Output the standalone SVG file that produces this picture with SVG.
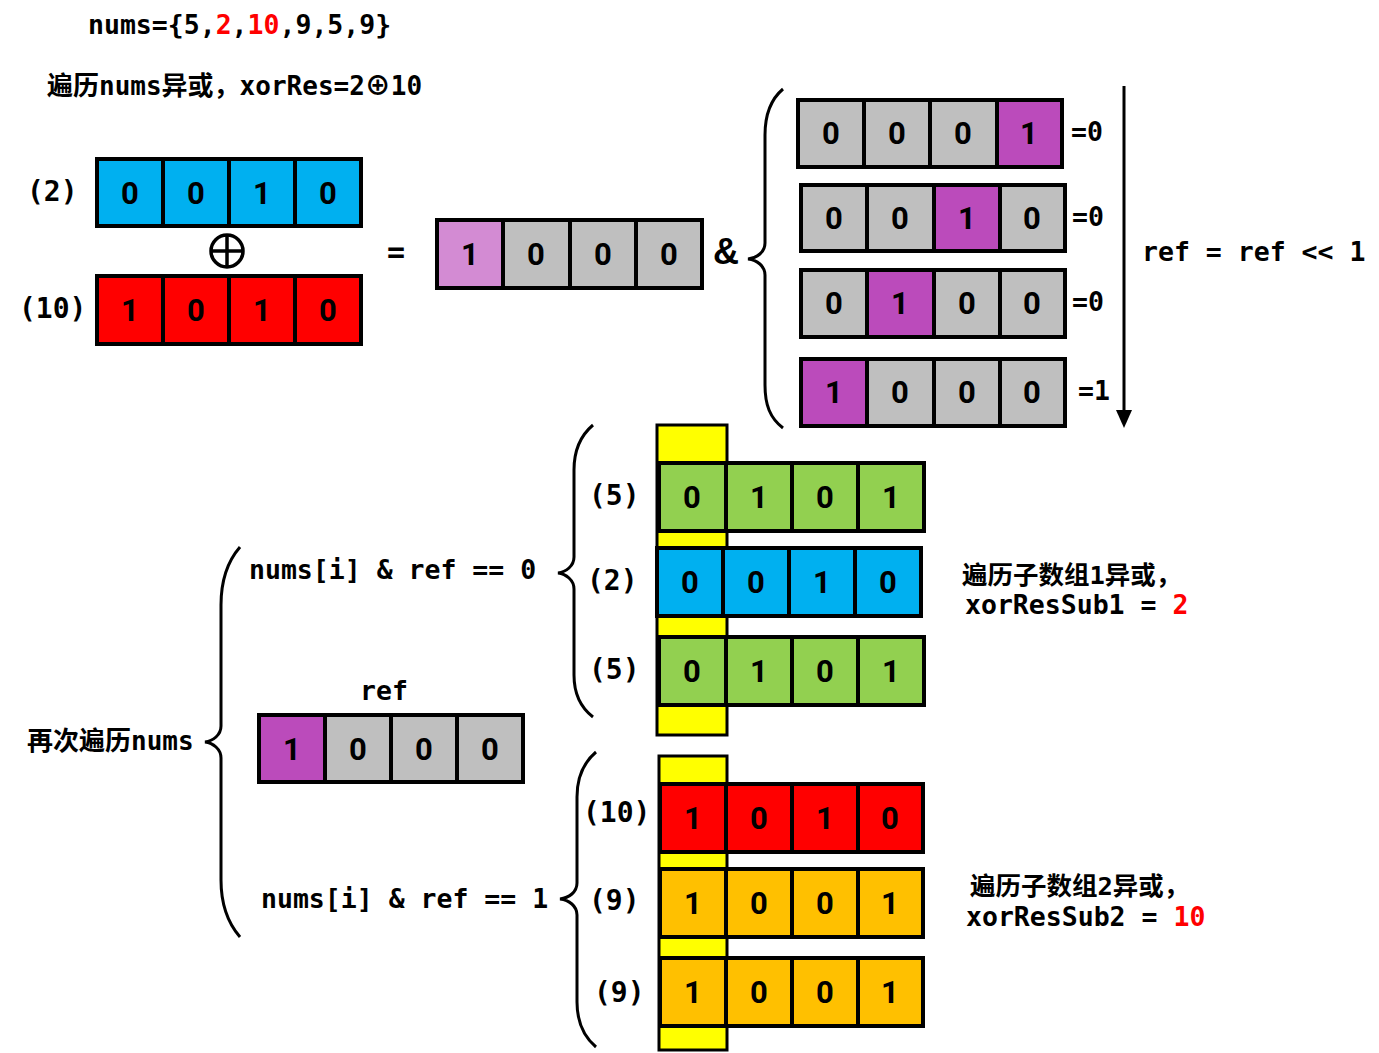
<svg xmlns="http://www.w3.org/2000/svg" width="1379" height="1053" viewBox="0 0 1379 1053">
<style>
.c{stroke:#000;stroke-width:4}
.g{fill:#BFBFBF}.p{fill:#BB4BBB}.lp{fill:#D38BD3}.b{fill:#00B0F0}.r{fill:#FF0000}.gr{fill:#92D050}.o{fill:#FFC000}.y{fill:#FFFF00}
.d{font-family:Roboto,"Liberation Sans",sans-serif;font-weight:bold;font-size:31px;text-anchor:middle;fill:#000}
.m{font-family:"DejaVu Sans Mono","Liberation Mono","Noto Sans CJK SC",monospace;font-weight:bold;font-size:26.5px;fill:#000}
.lb{font-family:"DejaVu Sans Mono","Liberation Mono",monospace;font-weight:bold;font-size:28px;fill:#000}
.cj{font-family:"DejaVu Sans Mono","Noto Sans CJK SC",monospace;font-weight:bold;font-size:26px;fill:#000}
.ck{font-family:"Noto Sans CJK SC",sans-serif}
.red{fill:#FF0000}
.br{fill:none;stroke:#000;stroke-width:3}
</style>

<!-- top texts -->
<text class="m" x="88" y="34">nums={5,<tspan class="red">2</tspan>,<tspan class="red">10</tspan>,9,5,9}</text>
<text class="cj" x="47" y="95">遍历nums异或，xorRes=2<tspan class="ck">⊕</tspan>10</text>

<!-- row (2) -->
<g id="row-2">
<text class="lb" x="27" y="201">(2)</text>
<rect class="c b" x="97" y="159" width="66" height="67"/><rect class="c b" x="163" y="159" width="66" height="67"/><rect class="c b" x="229" y="159" width="66" height="67"/><rect class="c b" x="295" y="159" width="66" height="67"/>
<text class="d" x="130" y="204">0</text><text class="d" x="196" y="204">0</text><text class="d" x="262" y="204">1</text><text class="d" x="328" y="204">0</text>
</g>
<g id="xor-symbol">
<circle cx="227" cy="251" r="16" fill="none" stroke="#000" stroke-width="3.5"/>
<line x1="211" y1="251" x2="243" y2="251" stroke="#000" stroke-width="3.5"/>
<line x1="227" y1="235" x2="227" y2="267" stroke="#000" stroke-width="3.5"/>
</g>
<g id="row-10">
<text class="lb" x="19" y="318">(10)</text>
<rect class="c r" x="97" y="276" width="66" height="68"/><rect class="c r" x="163" y="276" width="66" height="68"/><rect class="c r" x="229" y="276" width="66" height="68"/><rect class="c r" x="295" y="276" width="66" height="68"/>
<text class="d" x="130" y="321">1</text><text class="d" x="196" y="321">0</text><text class="d" x="262" y="321">1</text><text class="d" x="328" y="321">0</text>
</g>
<text class="m" x="387" y="262" style="font-size:30px">=</text>

<!-- middle ref -->
<g id="ref-mid">
<rect class="c lp" x="437" y="220" width="66" height="68"/><rect class="c g" x="503" y="220" width="67" height="68"/><rect class="c g" x="570" y="220" width="66" height="68"/><rect class="c g" x="636" y="220" width="66" height="68"/>
<text class="d" x="470" y="265">1</text><text class="d" x="536" y="265">0</text><text class="d" x="603" y="265">0</text><text class="d" x="669" y="265">0</text>
</g>
<text x="713" y="264" style="font-family:'Liberation Sans',sans-serif;font-weight:bold;font-size:36px">&amp;</text>

<!-- right shifts -->
<g id="shift-1">
<rect class="c g" x="798" y="100" width="66" height="67"/><rect class="c g" x="864" y="100" width="66" height="67"/><rect class="c g" x="930" y="100" width="67" height="67"/><rect class="c p" x="997" y="100" width="65" height="67"/>
<text class="d" x="831" y="144">0</text><text class="d" x="897" y="144">0</text><text class="d" x="963" y="144">0</text><text class="d" x="1029" y="144">1</text>
<text class="m" x="1071" y="141">=0</text>
</g>
<g id="shift-2">
<rect class="c g" x="801" y="185" width="66" height="66"/><rect class="c g" x="867" y="185" width="67" height="66"/><rect class="c p" x="934" y="185" width="66" height="66"/><rect class="c g" x="1000" y="185" width="65" height="66"/>
<text class="d" x="834" y="229">0</text><text class="d" x="900" y="229">0</text><text class="d" x="967" y="229">1</text><text class="d" x="1032" y="229">0</text>
<text class="m" x="1072" y="226">=0</text>
</g>
<g id="shift-3">
<rect class="c g" x="801" y="270" width="66" height="67"/><rect class="c p" x="867" y="270" width="67" height="67"/><rect class="c g" x="934" y="270" width="66" height="67"/><rect class="c g" x="1000" y="270" width="65" height="67"/>
<text class="d" x="834" y="314">0</text><text class="d" x="900" y="314">1</text><text class="d" x="967" y="314">0</text><text class="d" x="1032" y="314">0</text>
<text class="m" x="1072" y="311">=0</text>
</g>
<g id="shift-4">
<rect class="c p" x="801" y="359" width="66" height="67"/><rect class="c g" x="867" y="359" width="67" height="67"/><rect class="c g" x="934" y="359" width="66" height="67"/><rect class="c g" x="1000" y="359" width="65" height="67"/>
<text class="d" x="834" y="403">1</text><text class="d" x="900" y="403">0</text><text class="d" x="967" y="403">0</text><text class="d" x="1032" y="403">0</text>
<text class="m" x="1078" y="400">=1</text>
</g>
<text class="m" x="1142" y="261">ref = ref &lt;&lt; 1</text>

<!-- bottom-left -->
<text class="cj" x="27" y="750">再次遍历nums</text>
<text class="m" x="249" y="579">nums[i] &amp; ref == 0</text>
<text class="m" x="261" y="908">nums[i] &amp; ref == 1</text>
<g id="ref-low">
<text class="m" x="360" y="700">ref</text>
<rect class="c p" x="259" y="715" width="66" height="67"/><rect class="c g" x="325" y="715" width="66" height="67"/><rect class="c g" x="391" y="715" width="66" height="67"/><rect class="c g" x="457" y="715" width="66" height="67"/>
<text class="d" x="292" y="760">1</text><text class="d" x="358" y="760">0</text><text class="d" x="424" y="760">0</text><text class="d" x="490" y="760">0</text>
</g>

<!-- group 1 -->
<g id="group-1">
<rect class="y" x="657" y="425" width="70" height="310" stroke="#000" stroke-width="3"/>
<text class="lb" x="589" y="505">(5)</text>
<rect class="c gr" x="659" y="463" width="67" height="68"/><rect class="c gr" x="726" y="463" width="66" height="68"/><rect class="c gr" x="792" y="463" width="66" height="68"/><rect class="c gr" x="858" y="463" width="66" height="68"/>
<text class="d" x="692" y="508">0</text><text class="d" x="759" y="508">1</text><text class="d" x="825" y="508">0</text><text class="d" x="891" y="508">1</text>
<text class="lb" x="587" y="590">(2)</text>
<rect class="c b" x="657" y="548" width="66" height="68"/><rect class="c b" x="723" y="548" width="66" height="68"/><rect class="c b" x="789" y="548" width="66" height="68"/><rect class="c b" x="855" y="548" width="66" height="68"/>
<text class="d" x="690" y="593">0</text><text class="d" x="756" y="593">0</text><text class="d" x="822" y="593">1</text><text class="d" x="888" y="593">0</text>
<text class="lb" x="589" y="679">(5)</text>
<rect class="c gr" x="659" y="637" width="67" height="68"/><rect class="c gr" x="726" y="637" width="66" height="68"/><rect class="c gr" x="792" y="637" width="66" height="68"/><rect class="c gr" x="858" y="637" width="66" height="68"/>
<text class="d" x="692" y="682">0</text><text class="d" x="759" y="682">1</text><text class="d" x="825" y="682">0</text><text class="d" x="891" y="682">1</text>
</g>
<text class="cj" x="962" y="584" style="font-size:25.5px">遍历子数组1异或，</text>
<text class="m" x="965" y="614">xorResSub1 = <tspan class="red">2</tspan></text>

<!-- group 2 -->
<g id="group-2">
<rect class="y" x="659" y="756" width="68" height="294" stroke="#000" stroke-width="3"/>
<text class="lb" x="583" y="822">(10)</text>
<rect class="c r" x="660" y="784" width="66" height="68"/><rect class="c r" x="726" y="784" width="66" height="68"/><rect class="c r" x="792" y="784" width="66" height="68"/><rect class="c r" x="858" y="784" width="65" height="68"/>
<text class="d" x="693" y="829">1</text><text class="d" x="759" y="829">0</text><text class="d" x="825" y="829">1</text><text class="d" x="890" y="829">0</text>
<text class="lb" x="589" y="910">(9)</text>
<rect class="c o" x="660" y="869" width="66" height="68"/><rect class="c o" x="726" y="869" width="66" height="68"/><rect class="c o" x="792" y="869" width="66" height="68"/><rect class="c o" x="858" y="869" width="65" height="68"/>
<text class="d" x="693" y="914">1</text><text class="d" x="759" y="914">0</text><text class="d" x="825" y="914">0</text><text class="d" x="890" y="914">1</text>
<text class="lb" x="594" y="1002">(9)</text>
<rect class="c o" x="660" y="958" width="66" height="68"/><rect class="c o" x="726" y="958" width="66" height="68"/><rect class="c o" x="792" y="958" width="66" height="68"/><rect class="c o" x="858" y="958" width="65" height="68"/>
<text class="d" x="693" y="1003">1</text><text class="d" x="759" y="1003">0</text><text class="d" x="825" y="1003">0</text><text class="d" x="890" y="1003">1</text>
</g>
<text class="cj" x="970" y="895" style="font-size:25.5px">遍历子数组2异或，</text>
<text class="m" x="966" y="926">xorResSub2 = <tspan class="red">10</tspan></text>

<!-- connectors: braces and arrow -->
<g id="connectors">
<path class="br" d="M783,89 C770,100 765,115 765,135 L765,243 C765,252 757,258 748,259 C757,260 765,266 765,275 L765,385 C765,405 770,418 783,428"/>
<path class="br" d="M593,425 C580,436 574,452 574,470 L574,557 C574,566 566,572 558,573 C566,574 574,580 574,589 L574,675 C574,693 580,707 593,717"/>
<path class="br" d="M596,752 C583,763 577,779 577,797 L577,883 C577,892 569,898 560,899 C569,900 577,906 577,915 L577,1002 C577,1020 583,1036 596,1047"/>
<path class="br" d="M240,547 C227,562 221,582 221,605 L221,726 C221,735 213,741 205,742 C213,743 221,749 221,758 L221,880 C221,903 227,922 240,937"/>
<line x1="1124" y1="86" x2="1124" y2="412" stroke="#000" stroke-width="3"/>
<polygon points="1116,410 1132,410 1124,428" fill="#000"/>
</g>
</svg>
